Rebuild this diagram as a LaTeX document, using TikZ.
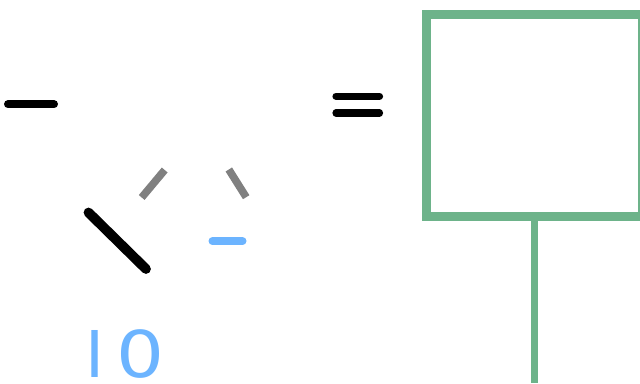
\documentclass[tikz,border=0pt]{standalone}
\usepackage{fontspec}
\newfontfamily\labelfont{DejaVu Sans}
\definecolor{boxgreen}{HTML}{6DB38A}
\definecolor{dashgray}{HTML}{808080}
\definecolor{skyblue}{HTML}{6CB4FF}
\tikzset{
  blackstroke/.style={draw=black, line cap=round},
  graystroke/.style={draw=dashgray, line width=7.6pt, line cap=butt},
  bluestroke/.style={draw=skyblue, line width=8pt, line cap=round},
  greenbox/.style={draw=boxgreen, line width=9pt, rectangle, inner sep=0pt,
    minimum width=216pt, minimum height=201.5pt},
  greenline/.style={draw=boxgreen, line width=6.5pt},
  bluelabel/.style={text=skyblue, inner sep=0pt, font=\labelfont\fontsize{64.5}{64.5}\selectfont}
}
\begin{document}
\begin{tikzpicture}[x=1pt, y=-1pt]
  \useasboundingbox (0,0) rectangle (640,383);
  % minus
  \coordinate (m1) at (8,104.3);
  \coordinate (m2) at (54,104.3);
  \draw[blackstroke, line width=8pt] (m1) -- (m2);
  % equals
  \coordinate (e1a) at (336,96.3);
  \coordinate (e1b) at (379.5,96.3);
  \coordinate (e2a) at (336,113);
  \coordinate (e2b) at (379.5,113);
  \draw[blackstroke, line width=7.2pt] (e1a) -- (e1b);
  \draw[blackstroke, line width=7.2pt] (e2a) -- (e2b);
  % black diagonal
  \coordinate (d1) at (88.5,212.5);
  \coordinate (d2) at (146,269);
  \draw[blackstroke, line width=9.8pt] (d1) -- (d2);
  % gray dashes
  \coordinate (g1a) at (141.7,197.5);
  \coordinate (g1b) at (164.7,170);
  \coordinate (g2a) at (228.8,169.5);
  \coordinate (g2b) at (246.2,197.2);
  \draw[graystroke] (g1a) -- (g1b);
  \draw[graystroke] (g2a) -- (g2b);
  % blue dash
  \coordinate (b1) at (212.5,241.2);
  \coordinate (b2) at (242.5,241.2);
  \draw[bluestroke] (b1) -- (b2);
  % blue label
  \node[bluelabel, anchor=base west] (lab) at (85.7,377) {I\hspace{12pt}\scalebox{1.17}[1]{0}};
  % green box and stem
  \node[greenbox] (box) at (534,115.25) {};
  \coordinate (stemend) at (534.5,383);
  \draw[greenline] (box.south -| stemend) -- (stemend);
\end{tikzpicture}
\end{document}
